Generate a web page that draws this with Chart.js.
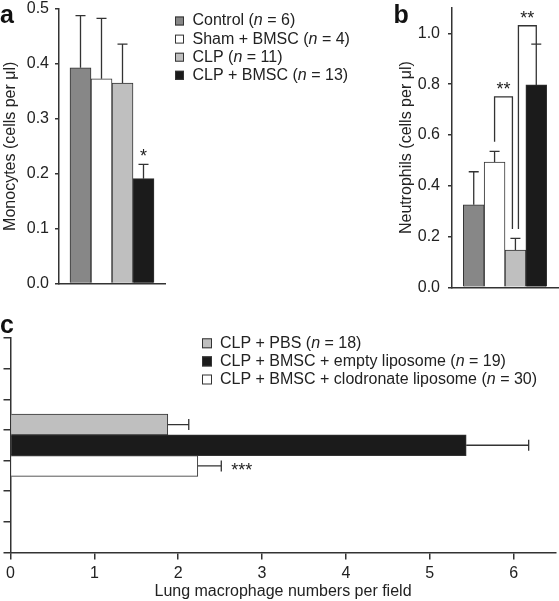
<!DOCTYPE html>
<html>
<head>
<meta charset="utf-8">
<script src="https://cdn.jsdelivr.net/npm/chart.js@4"></script>
<style>
  html, body { margin: 0; padding: 0; background: #fff; }
  #wrap { position: relative; width: 559px; height: 601px; }
  canvas { position: absolute; }
</style>
</head>
<body>
<div id="wrap">
  <canvas id="chartA" width="380" height="300" style="left:0;top:0"></canvas>
  <canvas id="chartB" width="179" height="300" style="left:380px;top:0"></canvas>
  <canvas id="chartC" width="559" height="301" style="left:0;top:300px"></canvas>
</div>
<script>
// panel a / b groups
const groupsAB = ['Control', 'Sham + BMSC', 'CLP', 'CLP + BMSC'];
const nAB = [6, 4, 11, 13];
const monocytes = [0.393, 0.373, 0.365, 0.191];
const monocytesErr = [0.095, 0.110, 0.071, 0.026];
const starsA = ['', '', '', '*'];
const neutrophils = [0.325, 0.493, 0.147, 0.797];
const neutrophilsErr = [0.130, 0.042, 0.046, 0.161];
// significance brackets in b: bar indexes, bracket height, where each leg stops
const bracketsB = [
  { from: 1, to: 2, level: 0.75, leftEnd: 0.573, rightEnd: 0.23, text: '**' },
  { from: 2, to: 3, level: 1.03, leftEnd: 0.23, rightEnd: 0.958, text: '**' }
];
// panel c
const groupsC = ['CLP + PBS', 'CLP + BMSC + empty liposome', 'CLP + BMSC + clodronate liposome'];
const nC = [18, 19, 30];
const macrophages = [1.876, 5.435, 2.234];
const macrophagesErr = [0.25, 0.745, 0.28];
const starsC = ['', '', '***'];
const slotsC = ['1', '2', '3', '4', '5', '6', '7'];  // blank rows on the y axis, bars sit in row 4

const family = "'Liberation Sans', Arial, Helvetica, sans-serif";
const ink = '#333';
const textColor = '#222';
const fillsAB = ['#878787', '#ffffff', '#bfbfbf', '#1b1b1b'];
const fillsC = ['#bfbfbf', '#1b1b1b', '#ffffff'];

Chart.defaults.font.family = family;
Chart.defaults.font.size = 16;
Chart.defaults.color = textColor;

const errorBars = {
  id: 'errorBars',
  afterDatasetsDraw(chart) {
    const ctx = chart.ctx;
    const horizontal = chart.options.indexAxis === 'y';
    const vs = horizontal ? chart.scales.x : chart.scales.y;
    ctx.save();
    ctx.strokeStyle = ink;
    ctx.lineWidth = 1.3;
    chart.data.datasets.forEach((ds, i) => {
      const meta = chart.getDatasetMeta(i);
      meta.data.forEach((bar, j) => {
        const v = meta.controller.getParsed(j)[vs.axis];
        const end = vs.getPixelForValue(v + ds.err[j]);
        ctx.beginPath();
        if (horizontal) {
          ctx.moveTo(bar.x, bar.y); ctx.lineTo(end, bar.y);
          ctx.moveTo(end, bar.y - 5.5); ctx.lineTo(end, bar.y + 5.5);
        } else {
          ctx.moveTo(bar.x, bar.y); ctx.lineTo(bar.x, end);
          ctx.moveTo(bar.x - 5, end); ctx.lineTo(bar.x + 5, end);
        }
        ctx.stroke();
        // significance stars
        const s = ds.stars ? ds.stars[j] : '';
        if (s) {
          ctx.fillStyle = textColor;
          ctx.font = '18px ' + family;
          if (horizontal) {
            ctx.textAlign = 'left';
            ctx.fillText(s, end + 10, bar.y + 10);
          } else {
            ctx.textAlign = 'center';
            ctx.fillText(s, bar.x, end - 2);
          }
        }
      });
    });
    ctx.restore();
  }
};

const boxLegend = {
  id: 'boxLegend',
  afterDraw(chart, args, o) {
    const ctx = chart.ctx;
    ctx.save();
    ctx.textBaseline = 'middle';
    chart.data.datasets.forEach((ds, i) => {
      const y = o.y + i * o.step;
      ctx.fillStyle = ds.backgroundColor;
      ctx.fillRect(o.x, y - o.box / 2, o.box, o.box);
      ctx.strokeStyle = ink;
      ctx.lineWidth = 1;
      ctx.strokeRect(o.x + 0.5, y - o.box / 2 + 0.5, o.box - 1, o.box - 1);
      let x = o.textX;
      [[ds.label + ' (', ''], ['n', 'italic '], [' = ' + ds.n + ')', '']].forEach(([t, st]) => {
        ctx.font = st + '16px ' + family;
        ctx.fillStyle = textColor;
        ctx.fillText(t, x, y);
        x += ctx.measureText(t).width;
      });
    });
    ctx.restore();
  }
};

const panelTag = {
  id: 'panelTag',
  afterDraw(chart, args, o) {
    const ctx = chart.ctx;
    ctx.save();
    ctx.font = 'bold 25px ' + family;
    ctx.fillStyle = '#111';
    ctx.fillText(o.text, o.x, o.y);
    ctx.restore();
  }
};

const bracketPlugin = {
  id: 'brackets',
  afterDatasetsDraw(chart) {
    const ctx = chart.ctx;
    const ys = chart.scales.y;
    const cx = k => chart.getDatasetMeta(k).data[0].x;
    ctx.save();
    ctx.strokeStyle = ink;
    ctx.lineWidth = 1.3;
    bracketsB.forEach((b, k) => {
      const xl = cx(b.from) + (k > 0 ? 3 : 0);
      const xr = cx(b.to) - (k === 0 ? 3 : 0);
      const yt = ys.getPixelForValue(b.level);
      ctx.beginPath();
      ctx.moveTo(xl, ys.getPixelForValue(b.leftEnd));
      ctx.lineTo(xl, yt);
      ctx.lineTo(xr, yt);
      ctx.lineTo(xr, ys.getPixelForValue(b.rightEnd));
      ctx.stroke();
      ctx.fillStyle = textColor;
      ctx.font = '18px ' + family;
      ctx.textAlign = 'center';
      ctx.fillText(b.text, (xl + xr) / 2, yt - 2);
    });
    ctx.restore();
  }
};

function axisLine() { return { color: ink, width: 1.5 }; }
function tickGrid(len) { return { drawOnChartArea: false, tickLength: len, color: ink, lineWidth: 1.5 }; }
// fixed axis box sizes; the tick-label overhang must not push the plot area in
function fixWidth(w) { return s => { s.width = w; s.paddingTop = 0; s.paddingBottom = 0; }; }
function fixHeight(h) { return s => { s.height = h; }; }

// ---- a ----
new Chart(document.getElementById('chartA'), {
  type: 'bar',
  data: {
    labels: [''],
    datasets: groupsAB.map((g, i) => ({
      label: g, n: nAB[i], data: [monocytes[i]], err: [monocytesErr[i]], stars: [starsA[i]],
      backgroundColor: fillsAB[i], borderColor: ink, borderWidth: 1, barThickness: 21
    }))
  },
  options: {
    responsive: false, animation: false,
    layout: { padding: { top: 9, right: 215, left: 0, bottom: 0 } },
    plugins: {
      legend: { display: false }, tooltip: { enabled: false },
      boxLegend: { x: 175, y: 21, step: 18.1, box: 9, textX: 192.5 },
      panelTag: { text: 'a', x: 0, y: 23 }
    },
    scales: {
      x: { grid: { display: false }, ticks: { display: false }, border: axisLine(),
           afterFit: fixHeight(16.5) },
      y: { min: 0, max: 0.5,
           ticks: { stepSize: 0.1, padding: 6, font: { size: 16, lineHeight: 1 }, callback: v => v.toFixed(1) },
           grid: tickGrid(4), border: axisLine(),
           title: { display: true, text: 'Monocytes (cells per μl)', padding: { top: 1, bottom: 0 } },
           afterFit: fixWidth(59) }
    }
  },
  plugins: [errorBars, boxLegend, panelTag]
});

// ---- b ----
new Chart(document.getElementById('chartB'), {
  type: 'bar',
  data: {
    labels: [''],
    datasets: groupsAB.map((g, i) => ({
      label: g, data: [neutrophils[i]], err: [neutrophilsErr[i]],
      backgroundColor: fillsAB[i], borderColor: ink, borderWidth: 1, barThickness: 20.85
    }))
  },
  options: {
    responsive: false, animation: false,
    layout: { padding: { top: 8, right: 1, left: 0, bottom: 0 } },
    plugins: {
      legend: { display: false }, tooltip: { enabled: false },
      panelTag: { text: 'b', x: 13.5, y: 23 }
    },
    scales: {
      x: { grid: { display: false }, ticks: { display: false }, border: axisLine(),
           afterFit: fixHeight(12.7) },
      y: { min: 0, max: 1.1,
           ticks: { stepSize: 0.2, includeBounds: false, padding: 8, font: { size: 16, lineHeight: 1 }, callback: v => v.toFixed(1) },
           grid: tickGrid(4), border: axisLine(),
           title: { display: true, text: 'Neutrophils (cells per μl)', padding: { top: 17, bottom: 0 } },
           afterFit: fixWidth(72) }
    }
  },
  plugins: [errorBars, bracketPlugin, panelTag]
});

// ---- c ----
new Chart(document.getElementById('chartC'), {
  type: 'bar',
  data: {
    labels: slotsC,
    datasets: groupsC.map((g, i) => ({
      label: g, n: nC[i], data: [{ x: macrophages[i], y: slotsC[3] }], err: [macrophagesErr[i]], stars: [starsC[i]],
      backgroundColor: fillsC[i], borderColor: ink, borderWidth: 1, barThickness: 20.7
    }))
  },
  options: {
    indexAxis: 'y',
    responsive: false, animation: false,
    layout: { padding: { top: 38, right: 3.5, left: 0, bottom: 0 } },
    plugins: {
      legend: { display: false }, tooltip: { enabled: false },
      boxLegend: { x: 202, y: 43.3, step: 18.1, box: 10, textX: 220 },
      panelTag: { text: 'c', x: 0, y: 33 }
    },
    scales: {
      x: { min: 0, max: 6.5,
           ticks: { stepSize: 1, includeBounds: false, padding: 4 },
           grid: tickGrid(7), border: axisLine(),
           title: { display: true, text: 'Lung macrophage numbers per field', padding: 0 },
           afterFit: fixHeight(48.5) },
      y: { ticks: { display: false },
           grid: Object.assign(tickGrid(7), { offset: true }), border: axisLine(),
           afterFit: fixWidth(10.5) }
    }
  },
  plugins: [errorBars, boxLegend, panelTag]
});
</script>
</body>
</html>
